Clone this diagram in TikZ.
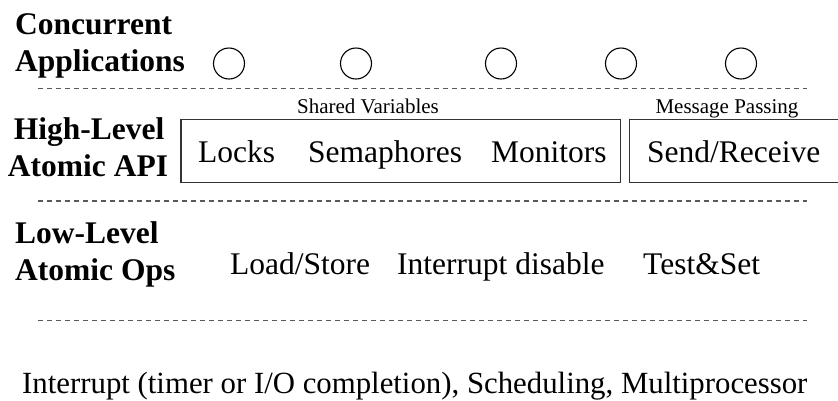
\documentclass[tikz,border=0pt]{standalone}
\usepackage{fontspec}
\setmainfont{Liberation Serif}
\begin{document}
\begin{tikzpicture}[x=1pt,y=-1pt,
  big/.style={font=\fontsize{31.5}{37}\selectfont, inner sep=0pt, anchor=base west},
  head/.style={font=\fontsize{31.5}{37}\selectfont\bfseries, inner sep=0pt},
  small/.style={font=\fontsize{21}{25}\selectfont, inner sep=0pt, anchor=base},
  app/.style={circle, draw=black, line width=1.1pt, minimum size=31pt, inner sep=0pt},
  layerline/.style={draw=black!65, line width=1.3pt, dash pattern=on 5pt off 4pt},
  apibox/.style={draw=black!80, line width=1.4pt}]
\useasboundingbox (0,0) rectangle (838,400);
\clip (0,0) rectangle (838,400);

% layer headings
\node[head, anchor=base west] (cc) at (15,34.5) {Concurrent};
\node[head, anchor=base west] (ca) at (15,71.5) {Applications};
\node[head, anchor=base] (hl) at (89,139.5) {High-Level};
\node[head, anchor=base] (ha) at (88,176.5) {Atomic API};
\node[head, anchor=base west] (ll) at (15,243.5) {Low-Level};
\node[head, anchor=base west] (la) at (15,280.5) {Atomic Ops};

% concurrent applications
\foreach \x [count=\i] in {229,356,501,621,741}
  \node[app] (a\i) at (\x,63.5) {};

% layer separators
\coordinate (s1l) at (38,88.7);  \coordinate (s1r) at (807,88.7);
\coordinate (s2l) at (38,201);   \coordinate (s2r) at (807,201);
\coordinate (s3l) at (38,320.7); \coordinate (s3r) at (807,320.7);
\draw[layerline] (s1l) -- (s1r);
\draw[layerline] (s2l) -- (s2r);
\draw[layerline] (s3l) -- (s3r);

% high-level API
\node[small] (sv) at (368,113.3) {Shared Variables};
\node[small] (mp) at (727,113.3) {Message Passing};
\draw[apibox] (181,119.3) rectangle (620.5,182.7);
\draw[apibox] (629.5,119.3) rectangle (850,182.7);
\node[big] (lk) at (198,162.7) {Locks};
\node[big] (sm) at (308,162.7) {Semaphores};
\node[big] (mn) at (491,162.7) {Monitors};
\node[big] (sr) at (647,162.7) {Send/Receive};

% low-level operations
\node[big] (ls) at (230,274) {Load/Store};
\node[big] (id) at (397,274) {Interrupt disable};
\node[big] (ts) at (643,274) {Test\&Set};

% hardware
\node[big, font=\fontsize{30.8}{36}\selectfont] (hw) at (22,393.5) {Interrupt (timer or I/O completion), Scheduling, Multiprocessor};
\end{tikzpicture}
\end{document}
